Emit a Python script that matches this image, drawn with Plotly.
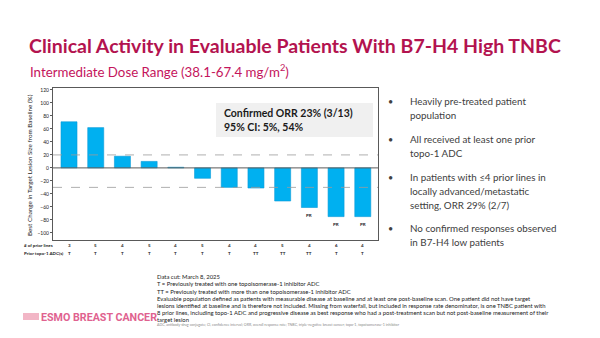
import plotly.graph_objects as go

# Per-patient best change in target lesion size (%), ordered as a waterfall
patients = list(range(12))
best_change = [71, 62, 18, 10, 1, -16, -30, -31, -51, -61, -75, -75]
response = ["", "", "", "", "", "", "", "", "", "PR", "PR", "PR"]
prior_lines = ["3", "5", "4", "5", "4", "5", "4", "4", "5", "4", "6", "4"]
prior_topo = ["T", "T", "T", "T", "T", "T", "T", "TT", "TT", "TT", "T", "T"]
y_ticks = list(range(-100, 121, 20))
thresholds = [20, -30]

W, H = 600, 338
FONT = "Lato"
BAR = "#00B0F0"
TITLE_C = "#B3134F"
TEXT_C = "#404040"


def py(px):
    return 1 - px / H


def px_x(px):
    return px / W


def text_at(x, y, text, size, color, family=FONT, xanchor="left", **kw):
    fig.add_annotation(x=px_x(x), y=py(y), xref="paper", yref="paper", text=text,
                       showarrow=False, xanchor=xanchor, yanchor="middle",
                       font=dict(size=size, color=color, family=family), **kw)


fig = go.Figure()
fig.add_trace(go.Bar(
    x=patients, y=best_change, width=0.6,
    marker=dict(color=BAR, line=dict(color="#0A9AD6", width=0.6)),
    showlegend=False,
))

# response labels under the deepest bars
for p, v, r in zip(patients, best_change, response):
    if r:
        fig.add_annotation(x=p, y=v, xref="x", yref="y", text="<b>" + r + "</b>",
                           showarrow=False, xanchor="center", yanchor="top", yshift=-3,
                           font=dict(size=4.5, color="#222", family=FONT))

# PD / PR reference lines
for t in thresholds:
    fig.add_shape(type="line", xref="paper", yref="y",
                  x0=px_x(53), x1=px_x(378), y0=t, y1=t,
                  line=dict(color="#9A9A9A", width=0.8, dash="dash"))
fig.add_shape(type="line", xref="paper", yref="y", x0=px_x(53), x1=px_x(378),
              y0=0, y1=0, line=dict(color="#595959", width=1))

# rows under the chart
text_at(22, 245.5, "<b># of prior lines</b>", 4.5, "#222")
text_at(22, 254, "<b>Prior topo-1 ADC(s)</b>", 4.5, "#222")
for p, n, t in zip(patients, prior_lines, prior_topo):
    for yy, s in ((245.5, n), (254, t)):
        fig.add_annotation(x=p, y=py(yy), xref="x", yref="paper", text="<b>" + s + "</b>",
                           showarrow=False, xanchor="center", yanchor="middle",
                           font=dict(size=4.5, color="#222", family=FONT))

# y-axis title
text_at(30, 165, "Best Change in Target Lesion Size from Baseline (%)", 6.3, "#222",
        xanchor="center", textangle=-90)

# ORR box
fig.add_shape(type="rect", xref="paper", yref="paper",
              x0=px_x(216), x1=px_x(373), y0=py(137), y1=py(103),
              fillcolor="#F0F0F0", line=dict(width=0), layer="below")
text_at(222, 120, "<b>Confirmed ORR 23% (3/13)<br>95% CI: 5%, 54%</b>", 10.5, "#1a1a1a",
        align="left")

# titles
text_at(27, 45, "<b>Clinical Activity in Evaluable Patients With B7-H4 High TNBC</b>",
        19.5, TITLE_C)
text_at(28, 71, "Intermediate Dose Range (38.1-67.4 mg/m<sup>2</sup>)", 13.3, "#C4155C")

# bullets
bullets = [
    (101, ["Heavily pre-treated patient", "population"]),
    (139, ["All received at least one prior", "topo-1 ADC"]),
    (177, ["In patients with \u22644 prior lines in", "locally advanced/metastatic",
           "setting, ORR 29% (2/7)"]),
    (228, ["No confirmed responses observed", "in B7-H4 low patients"]),
]
for y0, lines in bullets:
    text_at(391, y0, "\u2022", 9, TEXT_C, xanchor="center")
    for i, ln in enumerate(lines):
        text_at(408, y0 + 14 * i, ln, 9.8, TEXT_C)

# footnotes
notes = [
    "Data cut: March 8, 2025",
    "T = Previously treated with one topoisomerase-1 inhibitor ADC",
    "TT = Previously treated with more than one topoisomerase-1 inhibitor ADC",
    "Evaluable population defined as patients with measurable disease at baseline and at least one post-baseline scan. One patient did not have target",
    "lesions identified at baseline and is therefore not included. Missing from waterfall, but included in response rate denominator, is one TNBC patient with",
    "8 prior lines, including topo-1 ADC and progressive disease as best response who had a post-treatment scan but not post-baseline measurement of their",
    "target lesion",
]
for i, ln in enumerate(notes):
    text_at(155, 276.7 + 7.2 * i, ln, 5.9, "#222")
text_at(155, 324.8,
        "ADC, antibody-drug conjugate; CI, confidence interval; ORR, overall response rate; "
        "TNBC, triple-negative breast cancer; topo-1, topoisomerase-1 inhibitor",
        3.6, "#8a8a8a")

# congress logo
fig.add_shape(type="rect", xref="paper", yref="paper",
              x0=px_x(23), x1=px_x(39), y0=py(320), y1=py(313),
              fillcolor="#F2B6C6", line=dict(width=0))
text_at(39, 317, "<b>ESMO BREAST CANCER</b>", 10.7, "#E0628F", family="Roboto")

fig.update_layout(
    width=W, height=H, margin=dict(l=0, r=0, t=0, b=0),
    paper_bgcolor="white", plot_bgcolor="white",
    bargap=0.4,
    xaxis=dict(domain=[px_x(53), px_x(378)], range=[-0.6, 11.57],
               showticklabels=False, ticks="", showgrid=False, zeroline=False,
               showline=True, mirror=True, linecolor="#595959", linewidth=1),
    yaxis=dict(domain=[py(240), py(88)], range=[-111, 123],
               tickvals=y_ticks, ticks="outside", ticklen=2, tickwidth=0.8,
               tickcolor="#595959", showgrid=False, zeroline=False,
               showline=True, mirror=True, linecolor="#595959", linewidth=1,
               tickfont=dict(size=5, color="#222", family=FONT)),
)

fig.write_html("out.html")
